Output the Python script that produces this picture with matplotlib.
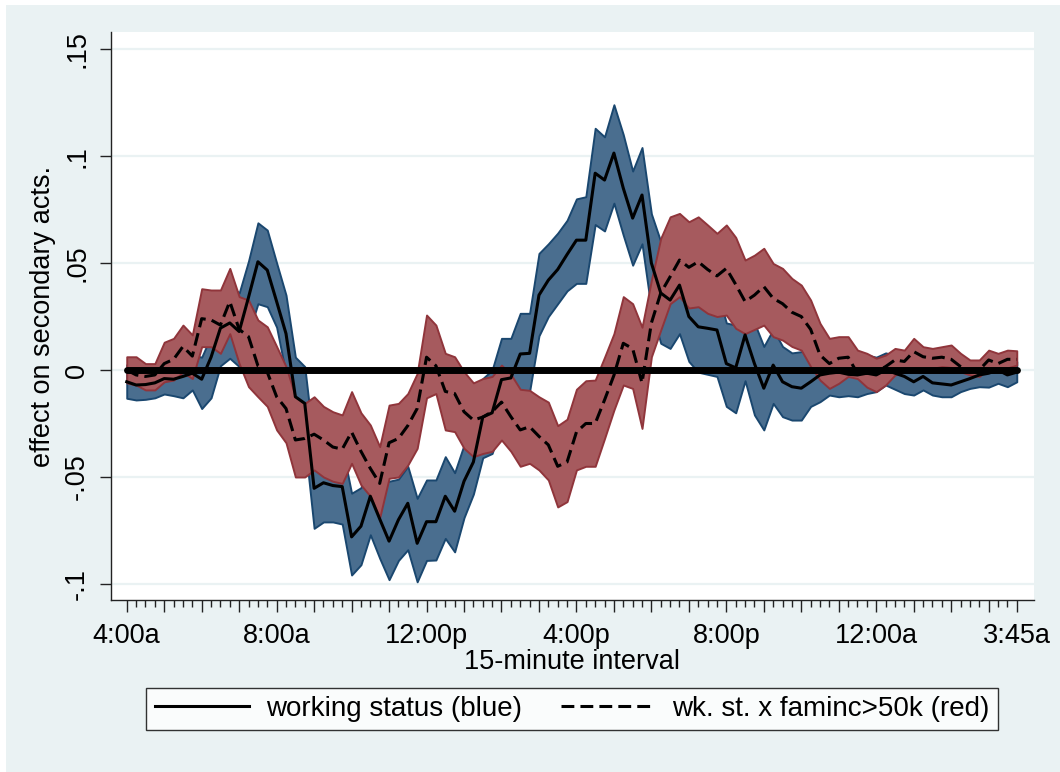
import matplotlib
matplotlib.use("Agg")
import matplotlib.pyplot as plt
from matplotlib.patches import Rectangle
from matplotlib.lines import Line2D
from matplotlib.ticker import FixedLocator, FixedFormatter

plt.rcParams['font.family'] = ['Liberation Sans', 'DejaVu Sans']

# 15-minute intervals, 4:00a .. 3:45a
interval = list(range(96))
tick_pos = [0, 16, 32, 48, 64, 80, 95]
tick_lab = ['4:00a', '8:00a', '12:00p', '4:00p', '8:00p', '12:00a', '3:45a']
ytick_pos = [-0.1, -0.05, 0, 0.05, 0.1, 0.15]
ytick_lab = ['-.1', '-.05', '0', '.05', '.1', '.15']

# working status (blue): point estimate and band
work = [-0.0055, -0.007, -0.0068, -0.006, -0.004, -0.0043, -0.003, -0.0015, -0.0043, 0.006,
        0.0196, 0.022, 0.018, 0.034, 0.0506, 0.0467, 0.032, 0.017, -0.0125, -0.0156,
        -0.0553, -0.0527, -0.054, -0.0545, -0.078, -0.073, -0.059, -0.0696, -0.080, -0.070,
        -0.0623, -0.081, -0.0709, -0.0709, -0.059, -0.066, -0.052, -0.043, -0.022, -0.020,
        -0.0045, -0.0037, 0.0075, 0.0078, 0.035, 0.042, 0.047, 0.054, 0.0607, 0.0607,
        0.092, 0.0888, 0.1014, 0.085, 0.071, 0.0818, 0.050, 0.036, 0.0327, 0.0397,
        0.025, 0.0202, 0.0195, 0.0187, 0.003, 0.001, 0.0164, 0.003, -0.0085, 0.0023,
        -0.0055, -0.0078, -0.0085, -0.0055, -0.0023, -0.0015, -0.001, -0.002, -0.0023, -0.0015,
        -0.0023, 0.0, -0.0015, -0.003, -0.0055, -0.003, -0.006, -0.0065, -0.007, -0.0055,
        -0.004, -0.0023, -0.0015, 0.0, -0.0023, -0.001]
work_hi = [0.0025, 0.001, 0.001, 0.002, 0.004, 0.0035, 0.006, 0.007, 0.006, 0.016,
           0.037, 0.040, 0.036, 0.051, 0.0688, 0.0654, 0.050, 0.035, 0.006, 0.0016,
           -0.036, -0.034, -0.035, -0.036, -0.0576, -0.055, -0.040, -0.051, -0.052, -0.051,
           -0.045, -0.060, -0.0514, -0.0514, -0.0405, -0.048, -0.035, -0.025, -0.004, 0.0,
           0.0148, 0.0148, 0.0265, 0.0265, 0.0545, 0.059, 0.064, 0.070, 0.080, 0.081,
           0.113, 0.109, 0.124, 0.110, 0.093, 0.104, 0.073, 0.060, 0.054, 0.060,
           0.046, 0.040, 0.039, 0.038, 0.022, 0.021, 0.036, 0.022, 0.011, 0.019,
           0.011, 0.008, 0.0086, 0.008, 0.008, 0.008, 0.009, 0.008, 0.007, 0.007,
           0.006, 0.008, 0.007, 0.005, 0.001, 0.003, 0.0, -0.001, -0.001, 0.0,
           0.001, 0.003, 0.004, 0.006, 0.003, 0.004]
work_lo = [-0.0132, -0.014, -0.0137, -0.013, -0.0112, -0.012, -0.013, -0.0093, -0.018, -0.013,
           0.002, 0.0055, 0.0016, 0.017, 0.031, 0.0296, 0.020, -0.002, -0.030, -0.033,
           -0.074, -0.071, -0.071, -0.072, -0.0958, -0.091, -0.077, -0.088, -0.098, -0.089,
           -0.084, -0.099, -0.089, -0.0888, -0.0787, -0.085, -0.069, -0.058, -0.041, -0.039,
           -0.025, -0.019, -0.011, -0.010, 0.016, 0.025, 0.031, 0.037, 0.0405, 0.0405,
           0.068, 0.065, 0.078, 0.063, 0.049, 0.059, 0.028, 0.0125, 0.0101, 0.017,
           0.004, -0.001, -0.002, -0.003, -0.017, -0.020, -0.005, -0.021, -0.028, -0.0156,
           -0.0218, -0.0234, -0.0234, -0.017, -0.0148, -0.0117, -0.0125, -0.012, -0.0125, -0.011,
           -0.0101, -0.007, -0.009, -0.011, -0.0117, -0.0093, -0.0117, -0.0125, -0.0125, -0.0101,
           -0.0086, -0.0078, -0.008, -0.0062, -0.0078, -0.0055]

# wk. st. x faminc>50k (red): point estimate and band
inter = [0.0, -0.0023, -0.003, -0.0023, 0.003, 0.005, 0.011, 0.0065, 0.024, 0.0234,
         0.021, 0.032, 0.019, 0.0156, 0.002, -0.001, -0.0125, -0.018, -0.0327, -0.032,
         -0.030, -0.0327, -0.036, -0.037, -0.029, -0.038, -0.046, -0.053, -0.034, -0.032,
         -0.026, -0.018, 0.006, 0.002, -0.010, -0.011, -0.0195, -0.0234, -0.022, -0.0195,
         -0.015, -0.0218, -0.028, -0.0265, -0.031, -0.035, -0.045, -0.043, -0.029, -0.025,
         -0.025, -0.014, -0.0025, 0.0125, 0.010, -0.006, 0.022, 0.036, 0.0436, 0.0514,
         0.048, 0.0506, 0.047, 0.044, 0.0475, 0.040, 0.032, 0.035, 0.039, 0.0335,
         0.031, 0.027, 0.025, 0.019, 0.007, 0.003, 0.0055, 0.006, -0.0016, -0.0016,
         -0.0008, 0.0016, 0.0047, 0.004, 0.0086, 0.0062, 0.0055, 0.006, 0.005, 0.0016,
         -0.0008, 0.0, 0.0047, 0.003, 0.005, 0.005]
inter_hi = [0.0062, 0.0062, 0.003, 0.003, 0.013, 0.0148, 0.021, 0.0164, 0.038, 0.0374,
            0.0374, 0.0475, 0.0343, 0.0327, 0.0234, 0.0202, 0.011, 0.0016, -0.0125, -0.0156,
            -0.0125, -0.017, -0.0195, -0.021, -0.0101, -0.020, -0.0257, -0.0358, -0.0164, -0.0156,
            -0.011, -0.0016, 0.0257, 0.021, 0.0078, 0.0062, -0.0008, -0.006, -0.004, -0.003,
            0.0023, -0.002, -0.009, -0.0095, -0.0125, -0.015, -0.026, -0.023, -0.009, -0.005,
            -0.0047, 0.006, 0.017, 0.0343, 0.031, 0.020, 0.042, 0.0616, 0.0716, 0.0732,
            0.0693, 0.0716, 0.0678, 0.0639, 0.0678, 0.062, 0.0514, 0.0537, 0.0569, 0.0498,
            0.0475, 0.0428, 0.0397, 0.0327, 0.0218, 0.0148, 0.0156, 0.0156, 0.0093, 0.0078,
            0.0055, 0.007, 0.0101, 0.0093, 0.0148, 0.0109, 0.0101, 0.0109, 0.0117, 0.0078,
            0.0047, 0.0047, 0.0093, 0.0078, 0.0093, 0.009]
inter_lo = [-0.006, -0.007, -0.0093, -0.0093, -0.0055, -0.0047, -0.001, -0.004, 0.0109, 0.0109,
            0.0078, 0.017, 0.003, -0.0078, -0.0125, -0.017, -0.028, -0.034, -0.050, -0.050,
            -0.0467, -0.050, -0.052, -0.053, -0.0436, -0.0537, -0.059, -0.069, -0.0506, -0.050,
            -0.0444, -0.0366, -0.013, -0.011, -0.028, -0.0288, -0.0366, -0.0405, -0.039, -0.038,
            -0.0327, -0.038, -0.045, -0.0436, -0.0467, -0.0514, -0.064, -0.0615, -0.0467, -0.045,
            -0.045, -0.032, -0.0187, -0.007, -0.0086, -0.0273, 0.0062, 0.0187, 0.031, 0.0343,
            0.029, 0.0296, 0.0265, 0.025, 0.0257, 0.0195, 0.017, 0.019, 0.021, 0.0156,
            0.014, 0.011, 0.0093, 0.0016, -0.0047, -0.0086, -0.0062, -0.003, -0.004, -0.008,
            -0.0101, -0.007, -0.0023, -0.001, 0.0008, 0.0005, 0.0008, 0.0016, 0.0012, -0.0008,
            -0.0023, -0.003, 0.0008, 0.0005, 0.001, 0.0023]

zero = [0.0] * len(interval)

bg = '#eaf2f3'
fig = plt.figure(figsize=(10.6, 7.72), dpi=100, facecolor='white')
fig.patches.append(Rectangle((6 / 1060, 0), 1, 1 - 5 / 772, transform=fig.transFigure,
                             facecolor=bg, edgecolor='none', zorder=-10))

ax = fig.add_axes([111 / 1060, 1 - 600 / 772, (1034 - 111) / 1060, (600 - 32) / 772])
ax.set_facecolor('white')

ax.fill_between(interval, work_lo, work_hi, facecolor='#4a6e8f', edgecolor='#1a476f',
                linewidth=1.4, zorder=2)
ax.fill_between(interval, inter_lo, inter_hi, facecolor='#a65a5e', edgecolor='#90353b',
                linewidth=1.4, zorder=3)
ax.plot(interval, zero, color='black', linewidth=5, solid_capstyle='round', zorder=4)
ax.plot(interval, work, color='black', linewidth=2.2, zorder=5)
ax.plot(interval, inter, color='black', linewidth=2.2, linestyle=(0, (4.2, 2)), zorder=5)

ax.set_xlim(-1.68, 96.84)
ax.set_ylim(-0.1075, 0.158)

for s in ['top', 'right']:
    ax.spines[s].set_visible(False)
for s in ['left', 'bottom']:
    ax.spines[s].set_color('#222222')
    ax.spines[s].set_linewidth(1.0)

ax.set_yticks(ytick_pos)
ax.set_yticklabels(ytick_lab, rotation=90, va='center', fontsize=19.5)
ax.yaxis.grid(True, color=bg, linewidth=1.6)
ax.set_axisbelow(True)
ax.tick_params(axis='y', length=8, width=1.0, pad=7, color='#222222')

hour_ticks = list(range(0, 96, 4)) + [95]
labels = [tick_lab[tick_pos.index(p)] if p in tick_pos else '' for p in hour_ticks]
ax.xaxis.set_major_locator(FixedLocator(hour_ticks))
ax.xaxis.set_major_formatter(FixedFormatter(labels))
ax.xaxis.set_minor_locator(FixedLocator(interval))
ax.tick_params(axis='x', which='major', length=8.5, width=1.0, pad=8, labelsize=19.5,
               color='#222222')
ax.tick_params(axis='x', which='minor', length=5, width=1.0, color='#222222')

ax.set_xlabel('15-minute interval', fontsize=19.5, labelpad=0)
ax.set_ylabel('effect on secondary acts.', fontsize=19.5, labelpad=6)

handles = [Line2D([], [], color='black', linewidth=2.2),
           Line2D([], [], color='black', linewidth=2.2, linestyle=(0, (4.2, 2)))]
leg = fig.legend(handles, ['working status (blue)', 'wk. st. x faminc>50k (red)'],
                 loc='center', bbox_to_anchor=(572 / 1060, 1 - 709 / 772), ncol=2,
                 fontsize=20, frameon=True, fancybox=False, handlelength=3.4,
                 handletextpad=0.6, columnspacing=1.4, borderpad=0.3)
leg.get_frame().set_edgecolor('black')
leg.get_frame().set_linewidth(1.0)

fig.savefig('out.png', dpi=100, facecolor=fig.get_facecolor())
